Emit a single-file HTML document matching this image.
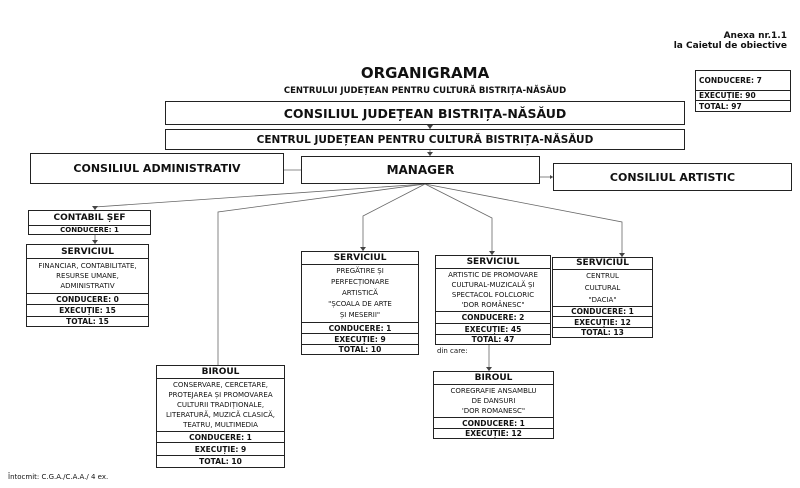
<!DOCTYPE html>
<html><head><meta charset="utf-8"><style>
body{margin:0;width:800px;height:488px;background:#fff;position:relative;overflow:hidden;font-family:"DejaVu Sans","Liberation Sans",sans-serif;color:#111}
.b{position:absolute;border:1px solid #222;box-sizing:border-box;background:#fff}
.r{border-top:1px solid #222;text-align:center;font-weight:bold;font-size:7.5px;box-sizing:border-box;display:flex;align-items:center;justify-content:center}
.r:first-child{border-top:none}
.h{font-size:9px}
.d{font-weight:normal;font-size:7px;line-height:10px;flex-direction:column}
.t{position:absolute;font-weight:bold;white-space:nowrap}
svg{position:absolute;left:0;top:0}
</style></head><body>
<svg width="800" height="488">
<g stroke="#666" stroke-width="0.8" fill="none">
<line x1="430" y1="125" x2="430" y2="129"/>
<line x1="430" y1="150" x2="430" y2="156"/>
<line x1="301" y1="170" x2="284" y2="170"/>
<line x1="540" y1="177" x2="553" y2="177"/>
<polyline points="425,184 95,207 95,210"/>
<line x1="95" y1="235" x2="95" y2="244"/>
<polyline points="425,184 218,212 218,365"/>
<polyline points="425,184 363,216 363,251"/>
<polyline points="425,184 492,218 492,255"/>
<polyline points="425,184 622,222 622,257"/>
<line x1="489" y1="345" x2="489" y2="371"/>
</g>
<g fill="#444">
<path d="M427,125 l3,4 l3,-4z"/><path d="M427,152 l3,4 l3,-4z"/>
<path d="M284,168 l-3,2 l3,2z"/><path d="M550,175 l3,2 l-3,2z"/>
<path d="M92,206 l3,4 l3,-4z"/><path d="M92,240 l3,4 l3,-4z"/>
<path d="M360,247 l3,4 l3,-4z"/><path d="M489,251 l3,4 l3,-4z"/><path d="M619,253 l3,4 l3,-4z"/>
<path d="M486,367 l3,4 l3,-4z"/>
</g>
</svg>
<div class="t" style="right:13px;top:31px;font-size:9px">Anexa nr.1.1</div>
<div class="t" style="right:13px;top:41px;font-size:9px">la Caietul de obiective</div>
<div class="t" style="left:0;width:850px;text-align:center;top:64px;font-size:15px">ORGANIGRAMA</div>
<div class="t" style="left:0;width:850px;text-align:center;top:86px;font-size:8.5px">CENTRULUI JUDEȚEAN PENTRU CULTURĂ BISTRIȚA-NĂSĂUD</div>
<div class="b" style="left:695px;top:70px;width:96px;height:42px;display:flex;flex-direction:column">
<div class="r" style="height:19px;justify-content:flex-start;padding-left:3px">CONDUCERE: 7</div>
<div class="r" style="height:10px;justify-content:flex-start;padding-left:3px">EXECUȚIE: 90</div>
<div class="r" style="flex:1;justify-content:flex-start;padding-left:3px">TOTAL: 97</div></div>
<div class="b" style="left:165px;top:101px;width:520px;height:24px;display:flex"><div class="r" style="flex:1;font-size:12.5px">CONSILIUL JUDEȚEAN BISTRIȚA-NĂSĂUD</div></div>
<div class="b" style="left:165px;top:129px;width:520px;height:21px;display:flex"><div class="r" style="flex:1;font-size:10.5px">CENTRUL JUDEȚEAN PENTRU CULTURĂ BISTRIȚA-NĂSĂUD</div></div>
<div class="b" style="left:30px;top:153px;width:254px;height:31px;display:flex"><div class="r" style="flex:1;font-size:11px">CONSILIUL ADMINISTRATIV</div></div>
<div class="b" style="left:301px;top:156px;width:239px;height:28px;display:flex"><div class="r" style="flex:1;font-size:12px">MANAGER</div></div>
<div class="b" style="left:553px;top:163px;width:239px;height:28px;display:flex"><div class="r" style="flex:1;font-size:11px">CONSILIUL ARTISTIC</div></div>

<div class="b" style="left:28px;top:210px;width:123px;height:25px;display:flex;flex-direction:column">
<div class="r h" style="height:14px">CONTABIL ȘEF</div><div class="r" style="flex:1;font-size:7px">CONDUCERE: 1</div></div>

<div class="b" style="left:26px;top:244px;width:123px;height:83px;display:flex;flex-direction:column">
<div class="r h" style="height:13px">SERVICIUL</div>
<div class="r d" style="height:35px"><span>FINANCIAR, CONTABILITATE,</span><span>RESURSE UMANE,</span><span>ADMINISTRATIV</span></div>
<div class="r" style="height:11px">CONDUCERE: 0</div><div class="r" style="height:12px">EXECUȚIE: 15</div><div class="r" style="flex:1">TOTAL: 15</div></div>

<div class="b" style="left:301px;top:251px;width:118px;height:104px;display:flex;flex-direction:column">
<div class="r h" style="height:12px">SERVICIUL</div>
<div class="r d" style="height:59px;line-height:11px"><span>PREGĂTIRE ȘI</span><span>PERFECȚIONARE</span><span>ARTISTICĂ</span><span>"ȘCOALA DE ARTE</span><span>ȘI MESERII"</span></div>
<div class="r" style="height:11px">CONDUCERE: 1</div><div class="r" style="height:11px">EXECUȚIE: 9</div><div class="r" style="flex:1">TOTAL: 10</div></div>

<div class="b" style="left:435px;top:255px;width:116px;height:90px;display:flex;flex-direction:column">
<div class="r h" style="height:12px">SERVICIUL</div>
<div class="r d" style="height:43px"><span>ARTISTIC DE PROMOVARE</span><span>CULTURAL-MUZICALĂ ȘI</span><span>SPECTACOL FOLCLORIC</span><span>'DOR ROMÂNESC"</span></div>
<div class="r" style="height:12px">CONDUCERE: 2</div><div class="r" style="height:11px">EXECUȚIE: 45</div><div class="r" style="flex:1">TOTAL: 47</div></div>
<div class="t" style="left:437px;top:347px;font-size:7px;font-weight:normal">din care:</div>

<div class="b" style="left:552px;top:257px;width:101px;height:81px;display:flex;flex-direction:column">
<div class="r h" style="height:11px">SERVICIUL</div>
<div class="r d" style="height:38px;line-height:12px"><span>CENTRUL</span><span>CULTURAL</span><span>"DACIA"</span></div>
<div class="r" style="height:10px">CONDUCERE: 1</div><div class="r" style="height:11px">EXECUȚIE: 12</div><div class="r" style="flex:1">TOTAL: 13</div></div>

<div class="b" style="left:156px;top:365px;width:129px;height:103px;display:flex;flex-direction:column">
<div class="r h" style="height:12px">BIROUL</div>
<div class="r d" style="height:53px"><span>CONSERVARE, CERCETARE,</span><span>PROTEJAREA ȘI PROMOVAREA</span><span>CULTURII TRADIȚIONALE,</span><span>LITERATURĂ, MUZICĂ CLASICĂ,</span><span>TEATRU, MULTIMEDIA</span></div>
<div class="r" style="height:11px">CONDUCERE: 1</div><div class="r" style="height:13px">EXECUȚIE: 9</div><div class="r" style="flex:1">TOTAL: 10</div></div>

<div class="b" style="left:433px;top:371px;width:121px;height:68px;display:flex;flex-direction:column">
<div class="r h" style="height:12px">BIROUL</div>
<div class="r d" style="height:33px"><span>COREGRAFIE ANSAMBLU</span><span>DE DANSURI</span><span>'DOR ROMANESC"</span></div>
<div class="r" style="height:11px">CONDUCERE: 1</div><div class="r" style="flex:1">EXECUȚIE: 12</div></div>

<div class="t" style="left:8px;top:473px;font-size:7px;font-weight:normal">Întocmit: C.G.A./C.A.A./ 4 ex.</div>
</body></html>
